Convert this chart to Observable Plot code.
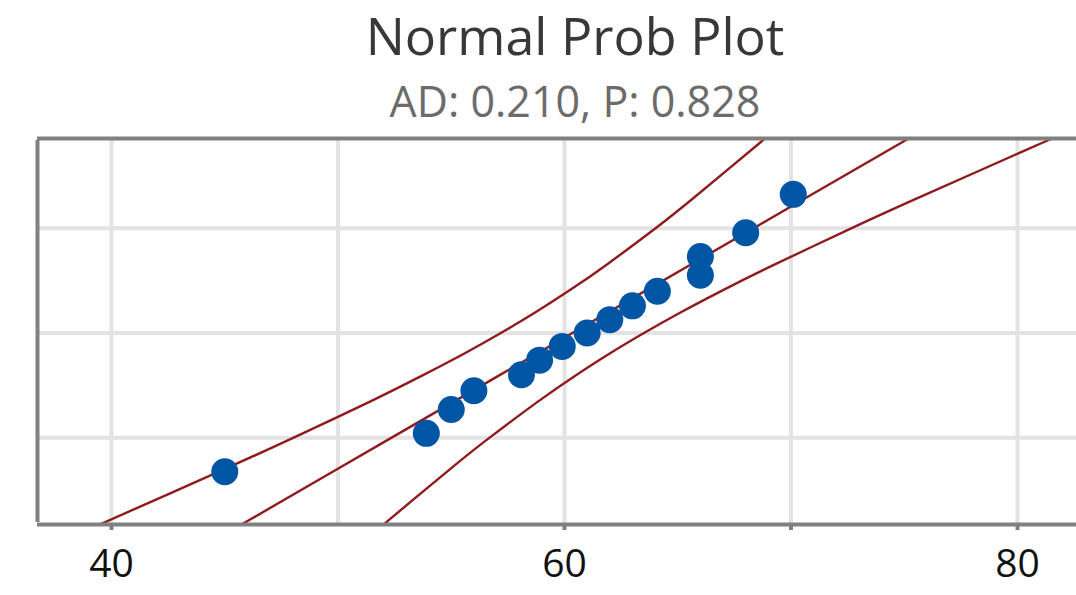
<!DOCTYPE html>
<html>
<head>
<meta charset="utf-8">
<script src="https://cdn.jsdelivr.net/npm/d3@7"></script>
<script src="https://cdn.jsdelivr.net/npm/@observablehq/plot@0.6"></script>
<style>
  html, body { margin: 0; padding: 0; background: #fff; overflow: hidden; }
  #chart svg { display: block; }
</style>
</head>
<body>
<div id="chart"></div>
<script>
// Observed values and their cumulative plotting positions (percent)
const xValues = [45.0, 53.9, 55.0, 56.0, 58.1, 58.9, 59.9, 61.0, 62.0, 63.0, 64.1, 66.0, 66.0, 68.0, 70.1];
const cumPercent = [4.5, 11.0, 17.5, 24.0, 30.5, 37.0, 43.5, 50.0, 56.5, 63.0, 69.5, 76.0, 82.5, 89.0, 95.5];

// Fitted normal line and 95% confidence bands at selected percent levels
const bandPercent = [0.5, 1, 5, 10, 20, 30, 40, 50, 60, 70, 80, 90, 95, 99, 99.5];
const fitCenter = [44.28, 45.83, 50.09, 52.35, 55.10, 57.08, 58.77, 60.35, 61.93, 63.62, 65.60, 68.35, 70.61, 74.87, 76.42];
const bandLower = [37.54, 39.60, 45.14, 48.02, 51.39, 53.69, 55.56, 57.19, 58.72, 60.24, 61.89, 64.02, 65.67, 68.63, 69.68];
const bandUpper = [51.02, 52.07, 55.03, 56.68, 58.81, 60.46, 61.98, 63.51, 65.14, 67.00, 69.31, 72.68, 75.56, 81.10, 83.16];

// Axis / grid values
const xGrid = [40, 50, 60, 70, 80];
const xTickMarks = [40, 60, 70, 80];
const xTickLabels = [40, 60, 80];
const yGridPercent = [10, 50, 90];

const titleText = "Normal Prob Plot";
const subtitleText = "AD: 0.210, P: 0.828";

// Inverse standard normal CDF (Acklam), used to place percents on a probability axis
function probit(p) {
  const a = [-3.969683028665376e+01, 2.209460984245205e+02, -2.759285104469687e+02, 1.383577518672690e+02, -3.066479806614716e+01, 2.506628277459239e+00];
  const b = [-5.447609879822406e+01, 1.615858368580409e+02, -1.556989798598866e+02, 6.680131188771972e+01, -1.328068155288572e+01];
  const c = [-7.784894002430293e-03, -3.223964580411365e-01, -2.400758277161838e+00, -2.549732539343734e+00, 4.374664141464968e+00, 2.938163982698783e+00];
  const d = [7.784695709041462e-03, 3.224671290700398e-01, 2.445134137142996e+00, 3.754408661907416e+00];
  const pl = 0.02425, ph = 1 - pl;
  let q, r;
  if (p < pl) {
    q = Math.sqrt(-2 * Math.log(p));
    return (((((c[0]*q+c[1])*q+c[2])*q+c[3])*q+c[4])*q+c[5]) / ((((d[0]*q+d[1])*q+d[2])*q+d[3])*q+1);
  } else if (p <= ph) {
    q = p - 0.5; r = q * q;
    return (((((a[0]*r+a[1])*r+a[2])*r+a[3])*r+a[4])*r+a[5])*q / (((((b[0]*r+b[1])*r+b[2])*r+b[3])*r+b[4])*r+1);
  } else {
    q = Math.sqrt(-2 * Math.log(1 - p));
    return -(((((c[0]*q+c[1])*q+c[2])*q+c[3])*q+c[4])*q+c[5]) / ((((d[0]*q+d[1])*q+d[2])*q+d[3])*q+1);
  }
}
const z = pct => probit(pct / 100);

const points = xValues.map((x, i) => ({x, z: z(cumPercent[i])}));
const bands = bandPercent.map((p, i) => ({z: z(p), center: fitCenter[i], lower: bandLower[i], upper: bandUpper[i]}));

const W = 1076, H = 595;
const yDomain = [-2.341, 2.378];
const xDomain = [36.733, 82.605];

const red = "#8f1b1e";
const frameColor = "#808080";

const chart = Plot.plot({
  width: W,
  height: H,
  marginTop: 138,
  marginBottom: 71,
  marginLeft: 37,
  marginRight: 0,
  style: {fontFamily: "'Open Sans', sans-serif", background: "white", overflow: "hidden"},
  x: {domain: xDomain},
  y: {domain: yDomain, axis: null},
  marks: [
    Plot.ruleX(xGrid, {stroke: "#e3e3e3", strokeWidth: 4, strokeOpacity: 1}),
    Plot.ruleY(yGridPercent, {y: d => z(d), stroke: "#e3e3e3", strokeWidth: 4, strokeOpacity: 1}),
    Plot.line(bands, {x: "lower", y: "z", stroke: red, strokeWidth: 2.4, curve: "natural", clip: true}),
    Plot.line(bands, {x: "upper", y: "z", stroke: red, strokeWidth: 2.4, curve: "natural", clip: true}),
    Plot.line(bands, {x: "center", y: "z", stroke: red, strokeWidth: 2.4, clip: true}),
    Plot.dot(points, {x: "x", y: "z", r: 13.5, fill: "#0055a5", stroke: "none"}),
    Plot.ruleY([yDomain[0], yDomain[1]], {stroke: frameColor, strokeWidth: 4, strokeOpacity: 1}),
    Plot.ruleX([xDomain[0]], {stroke: frameColor, strokeWidth: 4, strokeOpacity: 1, y1: yDomain[0], y2: yDomain[1], insetTop: -2, insetBottom: -2}),
    Plot.axisX({ticks: xTickMarks, tickSize: 6, strokeWidth: 4, stroke: frameColor, strokeOpacity: 1, tickFormat: () => ""}),
    Plot.axisX({ticks: xTickLabels, tickSize: 0, tickPadding: 25, fontSize: 39, fill: "#111", tickFormat: d => String(d)})
  ]
});

// Title and subtitle above the frame
const svg = d3.select(chart);
svg.append("text").attr("x", 575).attr("y", 55).attr("text-anchor", "middle")
  .attr("font-size", 52).attr("font-weight", 500).attr("fill", "#383838").text(titleText);
svg.append("text").attr("x", 575).attr("y", 117).attr("text-anchor", "middle")
  .attr("font-size", 43).attr("fill", "#6b6b6b").text(subtitleText);

document.getElementById("chart").appendChild(chart);
</script>
</body>
</html>
